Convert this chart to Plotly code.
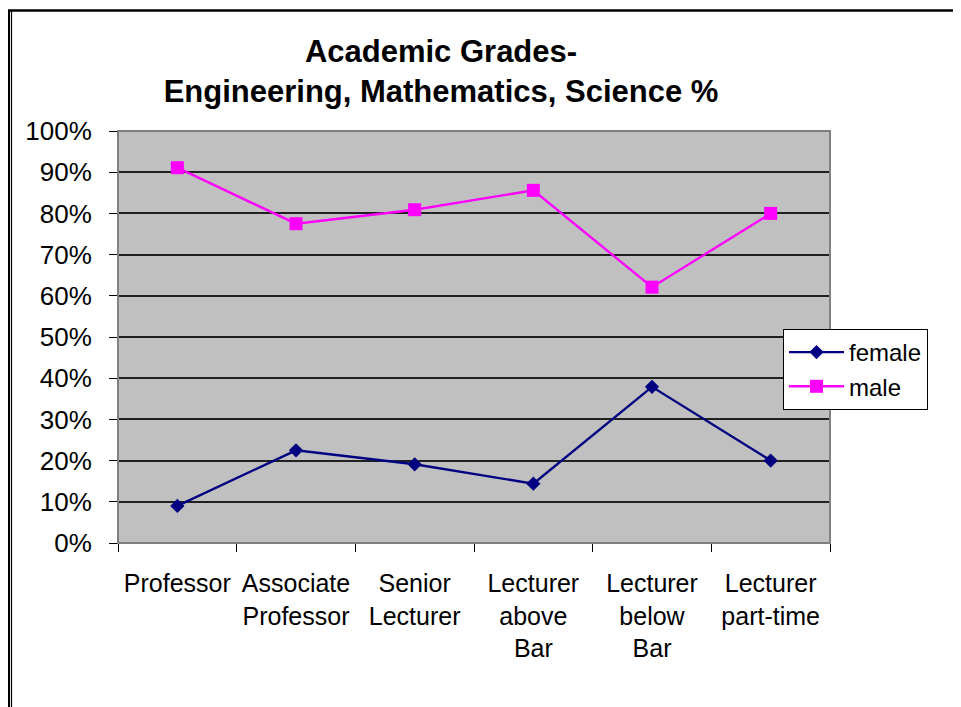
import plotly.graph_objects as go

# data
categories = [
    'Professor',
    'Associate<br>Professor',
    'Senior<br>Lecturer',
    'Lecturer<br>above<br>Bar',
    'Lecturer<br>below<br>Bar',
    'Lecturer<br>part-time',
]
female = [0.09, 0.225, 0.191, 0.144, 0.379, 0.20]
male = [0.911, 0.775, 0.809, 0.856, 0.621, 0.80]

W, H = 961, 707
OFF = 8  # page body margin
# plot area in screen pixels: x 118..830, y 131..543
ML, MT = 118 - OFF, 131 - OFF
MR, MB = W + OFF - 830, H + OFF - 543
PW, PH = W - ML - MR, H - MT - MB


def px(x):
    # screen pixel x -> paper x
    return (x - OFF - ML) / PW


def py(y):
    # screen pixel y -> paper y
    return (H - MB - (y - OFF)) / PH


font = 'Arial, Liberation Sans, sans-serif'

fig = go.Figure()
fig.add_trace(go.Scatter(
    x=categories, y=female, name='female', mode='lines+markers',
    line=dict(color='#000080', width=2.4),
    marker=dict(symbol='diamond', size=11, color='#000080'),
))
fig.add_trace(go.Scatter(
    x=categories, y=male, name='male', mode='lines+markers',
    line=dict(color='#FF00FF', width=2.4),
    marker=dict(symbol='square', size=13, color='#FF00FF'),
))

fig.update_layout(
    width=W, height=H,
    margin=dict(l=ML, r=MR, t=MT, b=MB, autoexpand=False),
    paper_bgcolor='white',
    plot_bgcolor='#C0C0C0',
    font=dict(family=font, size=26, color='black'),
    title=dict(
        text='<b>Academic Grades-<br>Engineering, Mathematics, Science %</b>',
        font=dict(size=31, family=font),
        x=px(441), xref='paper', xanchor='center',
        y=1 - 54 / H, yref='container', yanchor='top',
    ),
    showlegend=True,
    legend=dict(
        x=px(783), y=py(329), xanchor='left', yanchor='top',
        bgcolor='white', bordercolor='black', borderwidth=1,
        font=dict(size=24), itemwidth=55,
        tracegroupgap=0,
    ),
    xaxis=dict(
        type='category', range=[-0.5, 5.5],
        showgrid=False, zeroline=False,
        showline=True, linecolor='#404040', linewidth=1,
        ticks='outside', ticklen=8, tickcolor='black', tickwidth=1,
        tickson='boundaries', ticklabelstandoff=18,
        tickfont=dict(size=25),
        fixedrange=True,
    ),
    yaxis=dict(
        range=[0, 1], dtick=0.1, tickformat='.0%',
        showgrid=True, gridcolor='#202020', gridwidth=1.5,
        zeroline=False,
        showline=True, linecolor='#404040', linewidth=1,
        ticks='outside', ticklen=8, tickcolor='black', tickwidth=1,
        ticklabelstandoff=12,
        fixedrange=True,
    ),
    shapes=[
        # plot area border
        dict(type='rect', xref='paper', yref='paper', x0=0, x1=1, y0=0, y1=1,
             line=dict(color='#808080', width=2), layer='above'),
        # outer frame
        dict(type='line', xref='paper', yref='paper',
             x0=px(8), x1=px(W + 20), y0=py(10.5), y1=py(10.5),
             line=dict(color='black', width=2.5)),
        dict(type='line', xref='paper', yref='paper',
             x0=px(9), x1=px(9), y0=py(10), y1=py(H + 20),
             line=dict(color='black', width=2)),
        dict(type='line', xref='paper', yref='paper',
             x0=px(11.5), x1=px(11.5), y0=py(10), y1=py(H + 20),
             line=dict(color='black', width=1.2)),
    ],
)

fig.write_html('out.html')
